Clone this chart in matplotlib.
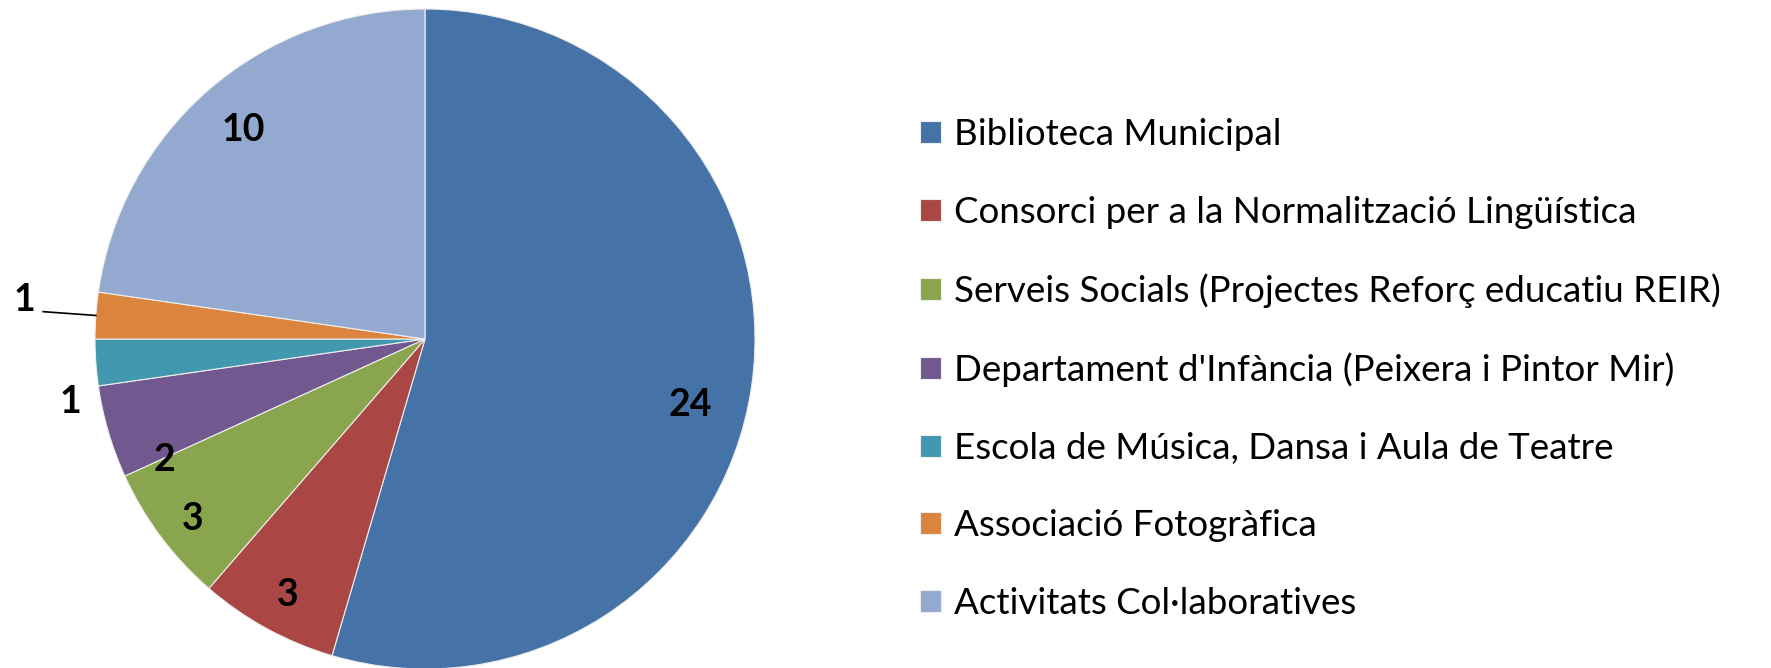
import numpy as np
import matplotlib
matplotlib.use("Agg")
import matplotlib.pyplot as plt

# ---------------- DATA ----------------
categories = [
    "Biblioteca Municipal",
    "Consorci per a la Normalització Lingüística",
    "Serveis Socials (Projectes Reforç educatiu REIR)",
    "Departament d'Infància (Peixera i Pintor Mir)",
    "Escola de Música, Dansa i Aula de Teatre",
    "Associació Fotogràfica",
    "Activitats Col·laboratives",
]
values = [24, 3, 3, 2, 1, 1, 10]
colors = ["#4572A7", "#AA4643", "#89A54E", "#71588F", "#4198AF", "#DB843D", "#93A9CF"]

# data label placement: distance from centre (radii) and angle shift (deg)
label_r = [0.83, 0.88, 0.89, 0.87, 1.09, 1.22, 0.84]
label_shift = [-5.8, 0.5, 1.0, 8.5, 6.0, -1.5, 0.0]

plt.rcParams["font.family"] = ["Lato", "DejaVu Sans"]

W, H = 1771, 668
fig = plt.figure(figsize=(W / 100, H / 100), dpi=100)
cx, cy, R = 425, 339, 330   # pixel centre (from top) and radius
ax = fig.add_axes([(cx - R) / W, (H - cy - R) / H, 2 * R / W, 2 * R / H])

wedges, _ = ax.pie(values, colors=colors, startangle=90, counterclock=False,
                   radius=1, wedgeprops=dict(edgecolor="#eeeeee", linewidth=0.8))
for w in wedges:
    w.set_clip_on(False)
ax.set_xlim(-1, 1)
ax.set_ylim(-1, 1)
ax.set_aspect("equal")
ax.axis("off")

# data labels
for i, w in enumerate(wedges):
    mid = np.deg2rad((w.theta1 + w.theta2) / 2 + label_shift[i])
    r = label_r[i]
    x, y = r * np.cos(mid), r * np.sin(mid)
    ax.text(x, y, str(values[i]), ha="center", va="center",
            fontsize=27, fontweight="bold", color="black", clip_on=False)
    if r > 1.15:
        # leader line to the small wedge
        edge = np.deg2rad((w.theta1 + w.theta2) / 2)
        ax.plot([x + 0.057, np.cos(edge)], [y - 0.036, np.sin(edge)],
                color="black", lw=1.2, clip_on=False)

leg = fig.legend(wedges, categories, loc="upper left",
                 bbox_to_anchor=(902 / W, 1 - 100 / H), frameon=False,
                 fontsize=26.5, handlelength=0.55, handleheight=0.55,
                 handletextpad=0.37, labelspacing=1.21, borderpad=0)

fig.savefig("out.png", dpi=100)
